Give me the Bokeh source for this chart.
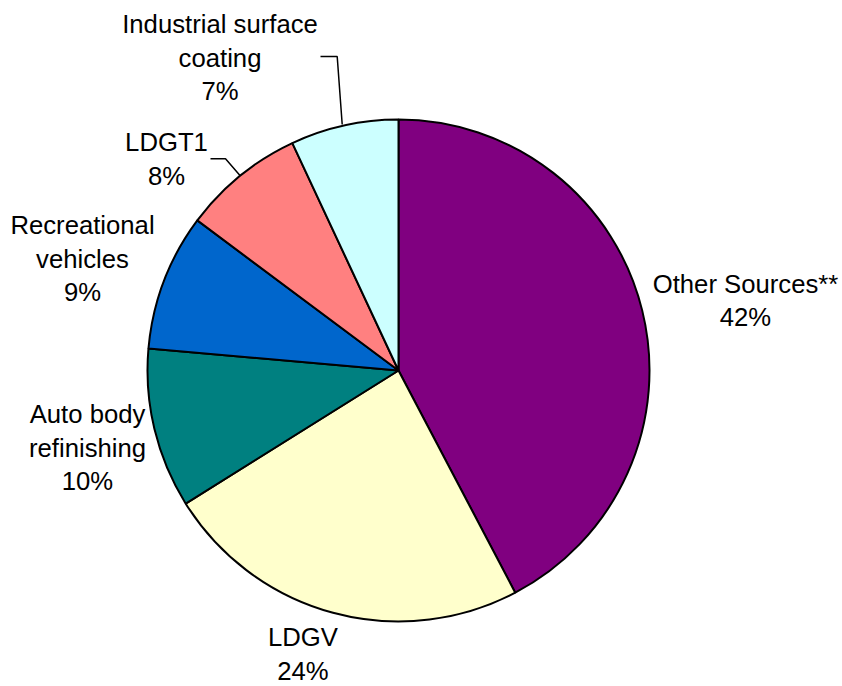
import math
from bokeh.plotting import figure
from bokeh.models import Range1d, ColumnDataSource
from bokeh.core.properties import value
from bokeh.embed import file_html
from bokeh.resources import INLINE

# ---- data (clockwise from 12 o'clock) ----
categories = ["Other Sources**", "LDGV", "Auto body\nrefinishing",
              "Recreational\nvehicles", "LDGT1", "Industrial surface\ncoating"]
shares = [42.3, 23.8, 10.3, 8.8, 7.85, 6.95]
colors = ["#800080", "#FFFFCC", "#008080", "#0066CC", "#FF8080", "#CCFFFF"]

# ---- layout (screen-like coordinates; y is negated) ----
CX, CY, R = 398, 370, 251
TEXT_SHIFT = -8.5
label_anchor_x = [745, 302.5, 87, 82, 166, 219.5]
label_anchor_y = [291.7, 645, 422, 233, 150, 32]
LINE_STEP = 33.5
leaders = {
    4: ([210, 225, 239.5], [158.3, 158.3, 175]),
    5: ([320, 336.7, 341.7], [56, 56, 124]),
}

p = figure(width=842, height=686, output_backend="svg", toolbar_location=None,
           x_range=Range1d(0, 842), y_range=Range1d(-686, 0),
           min_border=0, background_fill_color="white", border_fill_color="white")
p.axis.visible = False
p.grid.visible = False
p.outline_line_color = None

total = sum(shares)
starts, ends = [], []
cum = 0.0
for s in shares:
    a0 = math.pi / 2 - 2 * math.pi * cum / total
    cum += s
    a1 = math.pi / 2 - 2 * math.pi * cum / total
    starts.append(a0)
    ends.append(a1)

src = ColumnDataSource(dict(start=starts, end=ends, color=colors))
p.wedge(x=CX, y=-CY, radius=R, start_angle="start", end_angle="end",
        direction="clock", fill_color="color", line_color="black",
        line_width=2, source=src)

# leader lines
xs, ys = [], []
for i, (lx, ly) in leaders.items():
    xs.append(lx)
    ys.append([-v for v in ly])
p.multi_line(xs=xs, ys=ys, line_color="black", line_width=1.5)

# labels
tx, ty, tt = [], [], []
for i, name in enumerate(categories):
    lines = name.split("\n") + [f"{round(shares[i])}%"]
    for k, ln in enumerate(lines):
        tx.append(label_anchor_x[i])
        ty.append(-(label_anchor_y[i] + k * LINE_STEP + TEXT_SHIFT))
        tt.append(ln)
p.text(x=tx, y=ty, text=tt, text_align="center", text_baseline="alphabetic",
       text_font=value("Liberation Sans"), text_font_size="25.7px",
       text_color="black")

open("out.html", "w").write(file_html(p, INLINE))
